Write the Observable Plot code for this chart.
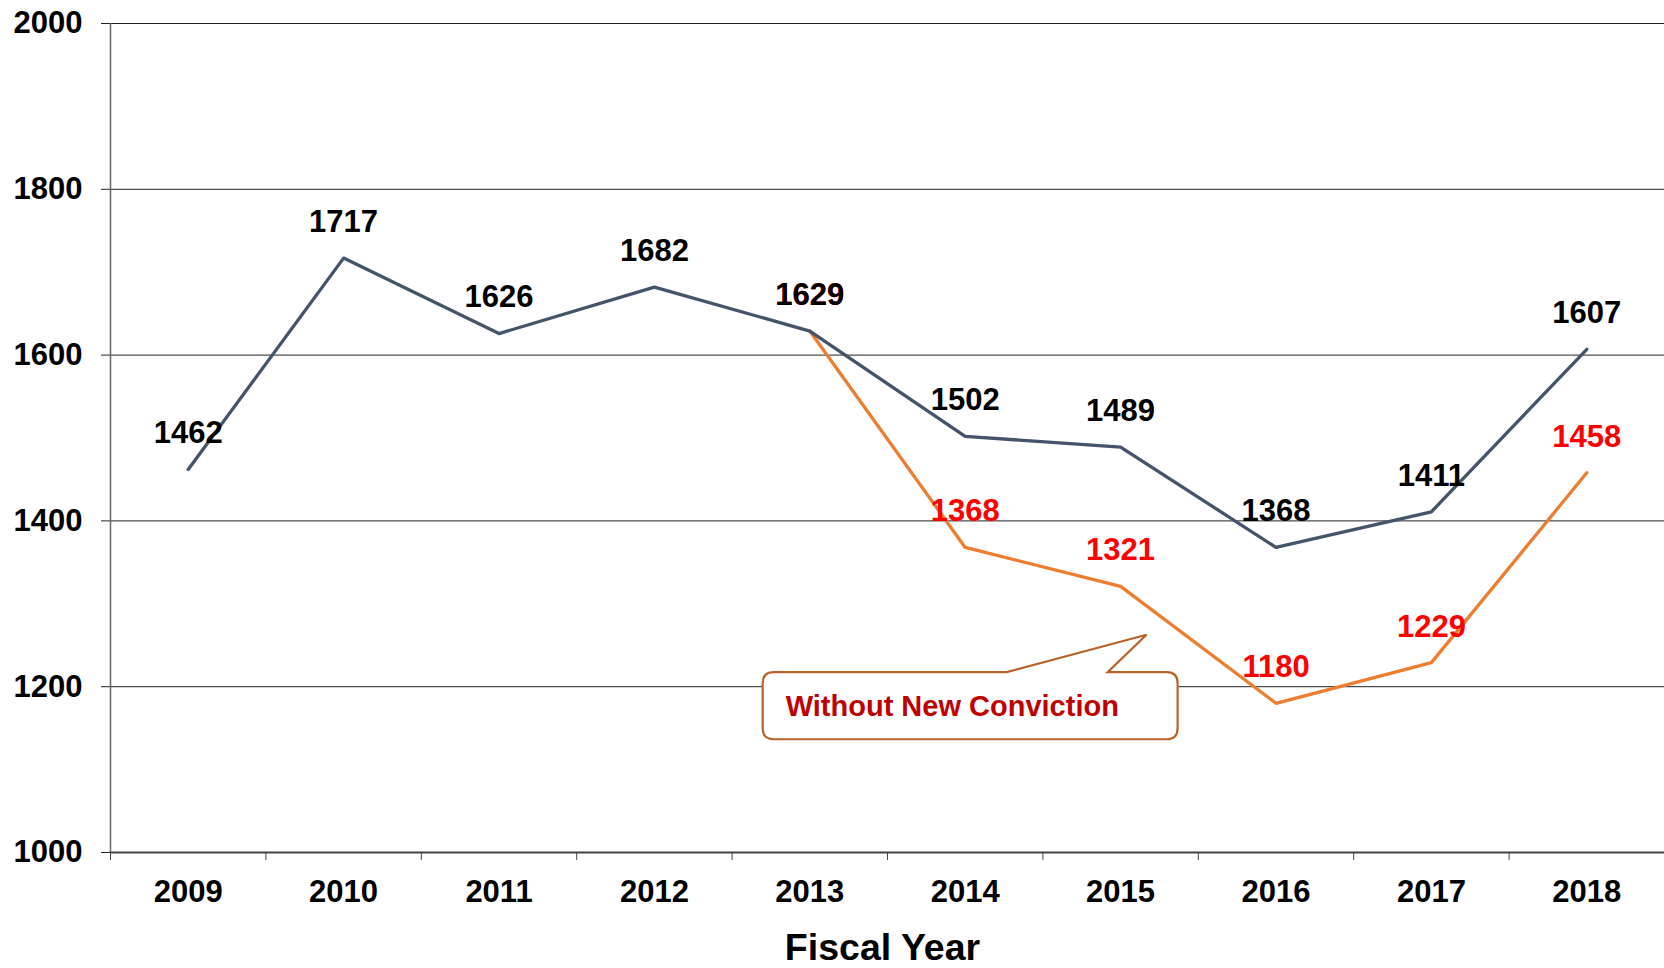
<!DOCTYPE html>
<html>
<head>
<meta charset="utf-8">
<script src="https://cdn.jsdelivr.net/npm/d3@7"></script>
<script src="https://cdn.jsdelivr.net/npm/@observablehq/plot@0.6"></script>
<style>
  html, body { margin: 0; padding: 0; background: #fff; }
  #chart svg { display: block; }
</style>
</head>
<body>
<div id="chart"></div>
<script>
// ---- data ----
const years = [2009, 2010, 2011, 2012, 2013, 2014, 2015, 2016, 2017, 2018];
const totalValues = [1462, 1717, 1626, 1682, 1629, 1502, 1489, 1368, 1411, 1607];
const withoutYears = [2013, 2014, 2015, 2016, 2017, 2018];
const withoutValues = [1629, 1368, 1321, 1180, 1229, 1458];
const yTicks = [1000, 1200, 1400, 1600, 1800, 2000];
const xTitle = "Fiscal Year";
const calloutText = "Without New Conviction";
// callout in data units: box corners and pointer tip
const calloutBox = {x1: 2012.70, x2: 2015.37, y1: 1136, y2: 1217};
const calloutTip = {x: 2015.17, y: 1262};
const calloutBase = [2014.27, 2014.92]; // where the pointer leaves the box top

const total = years.map((y, i) => ({year: y, value: totalValues[i]}));
const without = withoutYears.map((y, i) => ({year: y, value: withoutValues[i]}));
const boundaries = [years[0] - 0.5, ...years.map(y => y + 0.5)];

const font = "'Liberation Sans', Arial, sans-serif";
const fs = 31;

function calloutMark(index, scales, values, dimensions, context) {
  const x = scales.x, y = scales.y;
  const L = x(calloutBox.x1), R = x(calloutBox.x2), T = y(calloutBox.y2), B = y(calloutBox.y1);
  const r = 11;
  const b1 = x(calloutBase[0]), b2 = x(calloutBase[1]);
  const tx = x(calloutTip.x), ty = y(calloutTip.y);
  const p = [
    `M${L + r},${T}`, `L${b1},${T}`, `L${tx},${ty}`, `L${b2},${T}`, `L${R - r},${T}`,
    `Q${R},${T} ${R},${T + r}`, `L${R},${B - r}`, `Q${R},${B} ${R - r},${B}`,
    `L${L + r},${B}`, `Q${L},${B} ${L},${B - r}`, `L${L},${T + r}`, `Q${L},${T} ${L + r},${T}`, "Z"
  ].join(" ");
  const g = d3.create("svg:g");
  g.append("path").attr("d", p).attr("fill", "#fff").attr("stroke", "#b8632b").attr("stroke-width", 2.2);
  g.append("text").attr("x", L + 23).attr("y", (T + B) / 2).attr("dy", "0.36em")
    .attr("text-anchor", "start")
    .attr("fill", "#c00000").attr("font-family", font).attr("font-weight", "bold")
    .attr("font-size", 29).text(calloutText);
  return g.node();
}

const chart = Plot.plot({
  width: 1664,
  height: 968,
  marginLeft: 110,
  marginRight: 0,
  marginTop: 23,
  marginBottom: 116,
  style: {fontFamily: font, fontWeight: "bold", fontSize: fs + "px", color: "#000", background: "#fff"},
  x: {type: "linear", domain: [years[0] - 0.5, years[years.length - 1] + 0.5]},
  y: {domain: [1000, 2000]},
  marks: [
    Plot.ruleY(yTicks.filter(v => v > 1000), {y: d => d, stroke: "#222", strokeWidth: 1}),
    Plot.axisY(yTicks, {tickSize: 9, tickPadding: 19, stroke: "#222", fontSize: fs, fontWeight: "bold", label: null, tickFormat: d => String(d)}),
    Plot.ruleX([years[0] - 0.5], {y1: 1000, y2: 2000, stroke: "#666", strokeWidth: 1.5}),
    Plot.ruleY([1000], {stroke: "#444", strokeWidth: 2}),
    Plot.axisX(boundaries, {tickSize: 8, stroke: "#444", tickFormat: () => "", label: null}),
    Plot.axisX(years, {tickSize: 0, tickPadding: 27, fontSize: fs, fontWeight: "bold", label: null, tickFormat: d => String(d)}),
    Plot.line(without, {x: "year", y: "value", stroke: "#ed7d31", strokeWidth: 3.3}),
    Plot.line(total, {x: "year", y: "value", stroke: "#44546a", strokeWidth: 3.3}),
    Plot.text(without, {x: "year", y: "value", text: d => String(d.value), dy: -36, fill: "#ff0000", fontSize: fs, fontWeight: "bold"}),
    Plot.text(total, {x: "year", y: "value", text: d => String(d.value), dy: -36, fill: "#000", fontSize: fs, fontWeight: "bold"}),
    calloutMark,
    Plot.text([xTitle], {frameAnchor: "bottom", text: d => d, dx: -5, dy: 107, fontSize: 37.5, fontWeight: "bold", fill: "#000"})
  ]
});
document.getElementById("chart").appendChild(chart);
</script>
</body>
</html>
